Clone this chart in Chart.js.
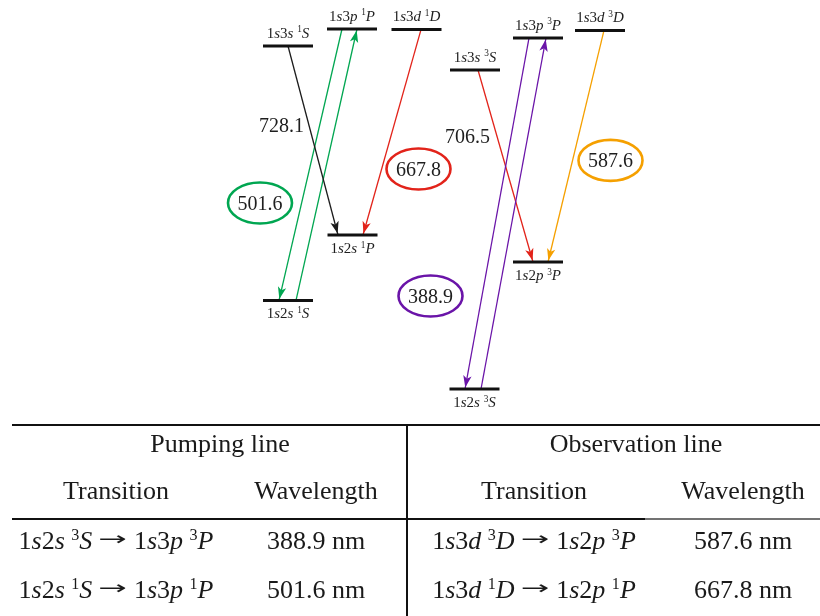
<!DOCTYPE html>
<html>
<head>
<meta charset="utf-8">
<script src="https://cdn.jsdelivr.net/npm/chart.js@4.4.1/dist/chart.umd.min.js"></script>
<style>
  html, body { margin: 0; padding: 0; background: #fff; }
  canvas { display: block; }
</style>
</head>
<body>
<canvas id="c" width="820" height="616"></canvas>
<script>
// ---- He I levels (diagram column, relative energy in arbitrary units) ----
const levelIds     = ['3s1S', '3p1P', '3d1D', '2p1P', '2s1S', '3s3S', '3p3P', '3d3D', '2p3P', '2s3S'];
const levelLabels  = ['1{s}3{s} ^1{S}', '1{s}3{p} ^1{P}', '1{s}3{d} ^1{D}', '1{s}2{s} ^1{P}', '1{s}2{s} ^1{S}',
                      '1{s}3{s} ^3{S}', '1{s}3{p} ^3{P}', '1{s}3{d} ^3{D}', '1{s}2{p} ^3{P}', '1{s}2{s} ^3{S}'];
const levelShell   = [3, 3, 3, 2, 2, 3, 3, 3, 2, 2];
const levelColumn  = [28.8, 35.2, 41.65, 35.25, 28.8, 47.5, 53.8, 60.0, 53.8, 47.45];
const levelEnergy  = [91, 95.25, 95.1, 43.75, 27.4, 85, 93, 94.9, 37, 5.25];

// ---- Transitions (arrow points at the "to" level) ----
const transFrom       = ['3s1S', '3d1D', '3p1P', '2s1S', '3p3P', '2s3S', '3s3S', '3d3D'];
const transTo         = ['2p1P', '2p1P', '2s1S', '3p1P', '2s3S', '3p3P', '2p3P', '2p3P'];
const transFromX      = [28.8, 42.1, 34.2, 29.6, 52.9, 48.1, 47.8, 60.4];
const transToX        = [33.8, 36.3, 27.9, 35.7, 46.5, 54.6, 53.3, 54.8];
const transWavelength = [728.1, 667.8, 501.6, 501.6, 388.9, 388.9, 706.5, 587.6];

// ---- Table contents ----
const tableGroups      = ['Pumping line', 'Observation line'];
const tableColumns     = ['Transition', 'Wavelength'];
const pumpTransitions  = ['1{s}2{s} ^3{S}\u21921{s}3{p} ^3{P}', '1{s}2{s} ^1{S}\u21921{s}3{p} ^1{P}'];
const pumpWavelengths  = [388.9, 501.6];
const obsTransitions   = ['1{s}3{d} ^3{D}\u21921{s}2{p} ^3{P}', '1{s}3{d} ^1{D}\u21921{s}2{p} ^1{P}'];
const obsWavelengths   = [587.6, 667.8];

// ---- Styling ----
const lineColor = {
  728.1: '#1c1c1c',
  667.8: '#e2231a',
  706.5: '#e2231a',
  501.6: '#00a651',
  388.9: '#6a14a8',
  587.6: '#f5a000'
};
// where each wavelength tag sits (diagram units) and whether it is circled
const tagPlacement = {
  728.1: { x: 28.15, y: 71.25, ring: false },
  706.5: { x: 46.75, y: 68.5,  ring: false },
  501.6: { x: 26.0,  y: 51.75, ring: true },
  667.8: { x: 41.85, y: 60.25, ring: true },
  388.9: { x: 43.05, y: 28.5,  ring: true },
  587.6: { x: 61.05, y: 62.4,  ring: true }
};
const SERIF = "'Liberation Serif', 'Times New Roman', 'DejaVu Serif', serif";
const BAR_HALF = 2.5;

// ---- rich text: {..} italic, ^x superscript, \u2192 wide arrow ----
function parseRich(s) {
  const runs = [];
  let i = 0;
  while (i < s.length) {
    const c = s[i];
    if (c === '{') {
      const j = s.indexOf('}', i);
      runs.push({ t: s.slice(i + 1, j), it: true });
      i = j + 1;
    } else if (c === '^') {
      runs.push({ t: s[i + 1], sup: true });
      i += 2;
    } else if (c === '\u2192') {
      runs.push({ t: c, arrow: true });
      i += 1;
    } else {
      runs.push({ t: c });
      i += 1;
    }
  }
  return runs;
}
function drawRich(ctx, s, cx, base, size, color) {
  const runs = parseRich(s);
  const fontOf = r => {
    if (r.arrow) return (size * 0.72).toFixed(1) + "px 'DejaVu Sans', sans-serif";
    return (r.it ? 'italic ' : '') + (r.sup ? (size * 0.62).toFixed(1) : size) + 'px ' + SERIF;
  };
  let w = 0;
  runs.forEach(r => {
    ctx.font = fontOf(r);
    r.nat = ctx.measureText(r.t).width;
    if (r.arrow) {
      r.padL = size * 0.23; r.padR = size * 0.27; r.glyph = size * 1.1;
      r.w = r.padL + r.glyph + r.padR;
    } else {
      r.w = r.nat;
    }
    w += r.w;
  });
  let x = cx - w / 2;
  ctx.fillStyle = color;
  ctx.textAlign = 'left';
  ctx.textBaseline = 'alphabetic';
  runs.forEach(r => {
    ctx.font = fontOf(r);
    if (r.arrow) {
      ctx.save();
      ctx.translate(x + r.padL, base - size * 0.16);
      ctx.scale(r.glyph / r.nat, 1);
      ctx.fillText(r.t, 0, 0);
      ctx.restore();
    } else {
      ctx.fillText(r.t, x, base - (r.sup ? size * 0.36 : 0));
    }
    x += r.w;
  });
}

function levelIndex(id) { return levelIds.indexOf(id); }

// ---- datasets: level bars and transition lines ----
const datasets = [];
levelIds.forEach((id, i) => {
  datasets.push({
    label: id,
    data: [{ x: levelColumn[i] - BAR_HALF, y: levelEnergy[i] }, { x: levelColumn[i] + BAR_HALF, y: levelEnergy[i] }],
    borderColor: '#111',
    borderWidth: 3,
    borderCapStyle: 'butt',
    showLine: true,
    pointRadius: 0
  });
});
transFrom.forEach((f, i) => {
  datasets.push({
    label: f + '-' + transTo[i],
    data: [{ x: transFromX[i], y: levelEnergy[levelIndex(f)] }, { x: transToX[i], y: levelEnergy[levelIndex(transTo[i])] }],
    borderColor: lineColor[transWavelength[i]],
    borderWidth: 1.3,
    showLine: true,
    pointRadius: 0
  });
});

const diagramPlugin = {
  id: 'diagram',
  afterDatasetsDraw(chart) {
    const { ctx } = chart;
    const xs = chart.scales.x, ys = chart.scales.y;
    ctx.save();

    // arrowheads at the "to" end
    transFrom.forEach((f, i) => {
      const x0 = xs.getPixelForValue(transFromX[i]);
      const y0 = ys.getPixelForValue(levelEnergy[levelIndex(f)]);
      const x1 = xs.getPixelForValue(transToX[i]);
      const y1 = ys.getPixelForValue(levelEnergy[levelIndex(transTo[i])]);
      let dx = x1 - x0, dy = y1 - y0;
      const len = Math.hypot(dx, dy);
      dx /= len; dy /= len;
      const tx = x1 - dx * 1.5, ty = y1 - dy * 1.5;
      const L = 12, W = 4.2, N = 3;
      const nx = -dy, ny = dx;
      ctx.beginPath();
      ctx.moveTo(tx, ty);
      ctx.lineTo(tx - dx * L + nx * W, ty - dy * L + ny * W);
      ctx.lineTo(tx - dx * (L - N), ty - dy * (L - N));
      ctx.lineTo(tx - dx * L - nx * W, ty - dy * L - ny * W);
      ctx.closePath();
      ctx.fillStyle = lineColor[transWavelength[i]];
      ctx.fill();
    });

    // level names
    levelIds.forEach((id, i) => {
      const cx = xs.getPixelForValue(levelColumn[i]);
      const py = ys.getPixelForValue(levelEnergy[i]);
      const base = levelShell[i] === 3 ? py - 8.5 : py + 18;
      drawRich(ctx, levelLabels[i], cx, base, 15, '#1e1e1e');
    });

    // wavelength tags
    const seen = new Set();
    transWavelength.forEach(wl => {
      if (seen.has(wl)) return;
      seen.add(wl);
      const p = tagPlacement[wl];
      const cx = xs.getPixelForValue(p.x);
      const cy = ys.getPixelForValue(p.y);
      if (p.ring) {
        ctx.beginPath();
        ctx.ellipse(cx, cy, 32, 20.5, 0, 0, Math.PI * 2);
        ctx.strokeStyle = lineColor[wl];
        ctx.lineWidth = 2.6;
        ctx.stroke();
      }
      ctx.font = '20px ' + SERIF;
      ctx.fillStyle = '#1e1e1e';
      ctx.textAlign = 'center';
      ctx.textBaseline = 'alphabetic';
      ctx.fillText(wl.toFixed(1), cx, cy + 7);
    });

    // ---- table ----
    const T = { top: 425, mid: 519, left: 12, right: 820, split: 407, bottom: 616 };
    ctx.strokeStyle = '#111';
    ctx.lineWidth = 2;
    ctx.beginPath();
    ctx.moveTo(T.left, T.top); ctx.lineTo(T.right, T.top);
    ctx.moveTo(T.split, T.top - 1); ctx.lineTo(T.split, T.bottom);
    ctx.moveTo(T.left, T.mid); ctx.lineTo(645, T.mid);
    ctx.stroke();
    ctx.strokeStyle = '#444';
    ctx.lineWidth = 1.5;
    ctx.beginPath();
    ctx.moveTo(645, T.mid); ctx.lineTo(T.right, T.mid);
    ctx.stroke();

    const size = 26;
    const groupCenters = [220, 636];
    const colCenters = [[116, 316], [534, 743]];
    const rowBase = [549, 598];
    ctx.fillStyle = '#1a1a1a';
    ctx.textAlign = 'center';
    ctx.textBaseline = 'alphabetic';
    ctx.font = size + 'px ' + SERIF;
    tableGroups.forEach((g, gi) => {
      ctx.fillText(g, groupCenters[gi], 452);
      tableColumns.forEach((c, ci) => ctx.fillText(c, colCenters[gi][ci], 499));
    });
    const groups = [[pumpTransitions, pumpWavelengths], [obsTransitions, obsWavelengths]];
    groups.forEach(([trs, wls], gi) => {
      trs.forEach((t, r) => {
        drawRich(ctx, t, colCenters[gi][0], rowBase[r], size, '#1a1a1a');
        ctx.font = size + 'px ' + SERIF;
        ctx.fillStyle = '#1a1a1a';
        ctx.textAlign = 'center';
        ctx.fillText(wls[r].toFixed(1) + ' nm', colCenters[gi][1], rowBase[r]);
      });
    });

    ctx.restore();
  }
};

new Chart(document.getElementById('c').getContext('2d'), {
  type: 'scatter',
  data: { datasets },
  options: {
    responsive: false,
    animation: false,
    devicePixelRatio: 1,
    events: [],
    layout: { padding: { top: 10, bottom: 206, left: 0, right: 0 } },
    elements: { point: { radius: 0, hoverRadius: 0 }, line: { tension: 0, fill: false } },
    scales: {
      x: { type: 'linear', min: 0, max: 82, display: false },
      y: { type: 'linear', min: 0, max: 100, display: false }
    },
    plugins: { legend: { display: false }, tooltip: { enabled: false }, title: { display: false } }
  },
  plugins: [diagramPlugin]
});
</script>
</body>
</html>
